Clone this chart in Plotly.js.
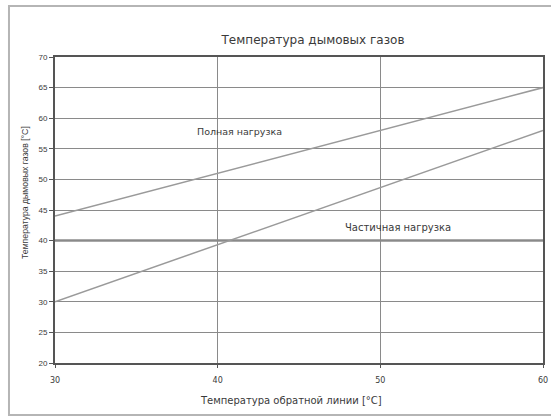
<!DOCTYPE html>
<html><head><meta charset="utf-8">
<script src="https://cdn.plot.ly/plotly-3.0.1.min.js"></script>
<style>html,body{margin:0;padding:0;background:#fff}#c{width:551px;height:417px}</style>
</head><body><div id="c"></div>
<script>
const returnTemp = [30, 60];
const fullLoad = [44, 65];
const partialLoad = [30, 58];
const xTicks = [30, 40, 50, 60];
const yTicks = [20, 25, 30, 35, 40, 45, 50, 55, 60, 65, 70];
const seriesNames = ['Полная нагрузка', 'Частичная нагрузка'];

const lineStyle = {color: '#9a9a9a', width: 1.5};
const traces = [
  {x: returnTemp, y: fullLoad, mode: 'lines', name: seriesNames[0], line: lineStyle, hoverinfo: 'skip'},
  {x: returnTemp, y: partialLoad, mode: 'lines', name: seriesNames[1], line: lineStyle, hoverinfo: 'skip'}
];
const wide = 'DejaVu Sans, Verdana, sans-serif';
const narrow = 'Liberation Sans, Arial, sans-serif';
const txt = '#3a3a3a';
const layout = {
  width: 551, height: 417,
  margin: {l: 55, r: 8, t: 57, b: 54},
  paper_bgcolor: '#fff', plot_bgcolor: '#fff',
  showlegend: false,
  font: {family: narrow, size: 8, color: txt},
  title: {text: 'Температура дымовых газов', font: {family: wide, size: 12, color: txt}, xref: 'container', x: 313 / 551, xanchor: 'center', y: 0.905, yanchor: 'middle'},
  xaxis: {
    range: [30, 60], tickvals: xTicks, ticktext: xTicks.map(String),
    showgrid: true, gridcolor: '#8a8a8a', gridwidth: 1,
    showline: true, linecolor: '#555', linewidth: 2, mirror: true,
    ticks: 'outside', ticklen: 3, tickcolor: '#555', zeroline: false,
    ticklabelstandoff: 5,
    tickfont: {family: wide, size: 8, color: txt}
  },
  yaxis: {
    range: [20, 70], tickvals: yTicks, ticktext: yTicks.map(String),
    showgrid: true, gridcolor: '#8a8a8a', gridwidth: 1,
    showline: true, linecolor: '#555', linewidth: 2, mirror: true,
    ticks: 'outside', ticklen: 4, tickcolor: '#555', zeroline: false,
    tickfont: {family: narrow, size: 8, color: txt}
  },
  shapes: [
    {type: 'line', xref: 'paper', x0: 0, x1: 1, yref: 'y', y0: 40, y1: 40, line: {color: '#555', width: 2}, layer: 'below'},
    {type: 'rect', xref: 'paper', yref: 'paper', x0: -0.0943, x1: 1.03, y0: -0.17, y1: 1.1667, line: {color: '#b5b5b5', width: 2}, fillcolor: 'rgba(0,0,0,0)'}
  ],
  annotations: [
    {xref: 'x', yref: 'y', x: 30 + (240 - 55) / 16.27, y: 57.9, text: seriesNames[0], showarrow: false, xanchor: 'center', yanchor: 'middle', font: {family: wide, size: 9.5, color: txt}},
    {xref: 'x', yref: 'y', x: 51.1, y: 42.2, text: seriesNames[1], showarrow: false, xanchor: 'center', yanchor: 'middle', font: {family: wide, size: 10, color: txt}},
    {xref: 'paper', yref: 'paper', x: (291 - 55) / 488, y: (363 - 400) / 306, text: 'Температура обратной линии [°C]', showarrow: false, xanchor: 'center', yanchor: 'middle', font: {family: wide, size: 10, color: txt}},
    {xref: 'paper', yref: 'paper', x: (25 - 55) / 488, y: (363 - 193) / 306, text: 'Температура дымовых газов [°C]', textangle: -90, showarrow: false, xanchor: 'center', yanchor: 'middle', font: {family: narrow, size: 8.7, color: txt}}
  ]
};
Plotly.newPlot('c', traces, layout, {staticPlot: true, displayModeBar: false});
</script></body></html>
